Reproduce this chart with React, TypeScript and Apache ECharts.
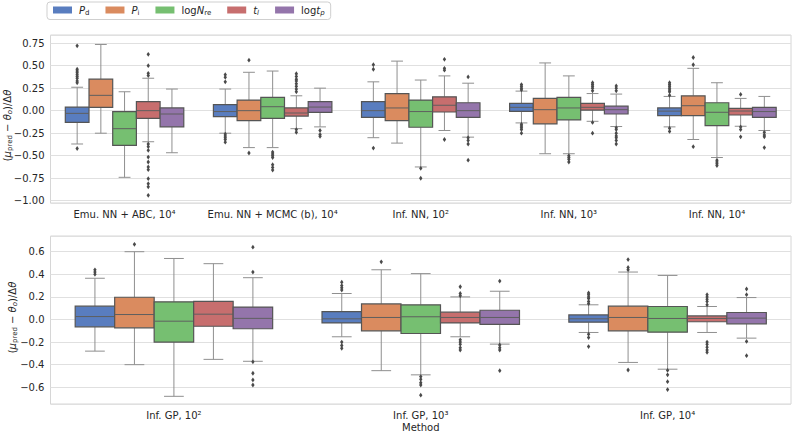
import React, { useEffect, useRef } from 'react';
import * as echarts from 'echarts';

// ---------- data ----------
const hueNames = ['Pd', 'Pi', 'logNre', 'tl', 'logtp'];
const hueColors = ['#597dbf', '#da8b5f', '#76bf71', '#c76e6e', '#9475ab'];

const topCategories = ['Emu. NN + ABC, 10⁴', 'Emu. NN + MCMC (b), 10⁴', 'Inf. NN, 10²', 'Inf. NN, 10³', 'Inf. NN, 10⁴'];
const bottomCategories = ['Inf. GP, 10²', 'Inf. GP, 10³', 'Inf. GP, 10⁴'];

const yTicksTop = { min: -1.025, max: 0.84, step: 0.25, digits: 2 };
const yTicksBottom = { min: -0.748, max: 0.739, step: 0.2, digits: 1 };

// box stats per category: [whiskerLow, q1, median, q3, whiskerHigh]
const topPd = [[-0.37, -0.13, -0.03, 0.04, 0.26], [-0.25, -0.066, -0.01, 0.066, 0.24], [-0.30, -0.074, 0.0, 0.10, 0.32], [-0.136, -0.007, 0.037, 0.08, 0.217], [-0.18, -0.055, -0.005, 0.03, 0.158]];
const topPi = [[-0.25, 0.037, 0.17, 0.35, 0.735], [-0.41, -0.11, 0.0, 0.118, 0.426], [-0.36, -0.11, 0.03, 0.19, 0.55], [-0.478, -0.147, 0.011, 0.136, 0.53], [-0.32, -0.055, 0.055, 0.165, 0.47]];
const topLogNre = [[-0.74, -0.386, -0.20, -0.01, 0.21], [-0.41, -0.085, 0.044, 0.147, 0.44], [-0.625, -0.184, -0.01, 0.118, 0.34], [-0.478, -0.103, 0.03, 0.147, 0.386], [-0.52, -0.165, -0.018, 0.088, 0.31]];
const topTl = [[-0.345, -0.085, 0.0, 0.10, 0.36], [-0.20, -0.06, -0.026, 0.03, 0.165], [-0.22, -0.015, 0.06, 0.154, 0.386], [-0.118, 0.007, 0.037, 0.08, 0.19], [-0.173, -0.048, -0.004, 0.026, 0.136]];
const topLogtp = [[-0.467, -0.18, -0.037, 0.03, 0.24], [-0.18, -0.018, 0.04, 0.10, 0.25], [-0.294, -0.074, 0.0, 0.088, 0.305], [-0.176, -0.037, 0.011, 0.05, 0.184], [-0.22, -0.074, -0.01, 0.037, 0.158]];

// outliers per category
const topPdOut = [[0.72, 0.46, 0.44, 0.42, 0.40, 0.38, 0.36, 0.33, 0.31, -0.42], [0.40, 0.37, 0.32, -0.26, -0.28, -0.30, -0.32, -0.35], [0.51, 0.46, -0.415], [0.29, 0.27, 0.25, 0.23, -0.15, -0.17, -0.19, -0.21, -0.25], [0.31, 0.29, 0.27, 0.25, 0.23, 0.21, 0.17, -0.195, -0.23]];
const topPiOut = [[], [0.56, -0.47], [], [], [0.59, 0.51, -0.40]];
const topLogNreOut = [[], [-0.46, -0.48, -0.50, -0.52, -0.60, -0.63, -0.66], [-0.64, -0.75], [-0.50, -0.52, -0.54, -0.57], [-0.55, -0.57, -0.59, -0.61]];
const topTlOut = [[0.625, 0.50, 0.415, 0.39, -0.37, -0.40, -0.44, -0.515, -0.57, -0.625, -0.655, -0.755, -0.81, -0.845, -0.94], [0.41, 0.38, 0.35, 0.33, 0.30, 0.27, 0.24, 0.21, -0.21, -0.24], [0.57, 0.47, 0.45, -0.32], [0.31, 0.29, 0.27, 0.25, 0.22, -0.13, -0.25], [0.18, -0.18, -0.21, -0.29]];
const topLogtpOut = [[], [-0.22, -0.265, -0.285], [0.375, -0.30, -0.33, -0.37, -0.55], [0.275, 0.25, 0.22, -0.19, -0.21, -0.25, -0.28, -0.30, -0.33, -0.37], [-0.24, -0.27, -0.29, -0.41]];

const bottomPd = [[-0.28, -0.065, 0.026, 0.118, 0.365], [-0.153, -0.03, 0.006, 0.07, 0.23], [-0.115, -0.024, 0.006, 0.04, 0.13]];
const bottomPi = [[-0.40, -0.074, 0.044, 0.197, 0.60], [-0.453, -0.10, 0.018, 0.138, 0.44], [-0.38, -0.10, 0.018, 0.118, 0.42]];
const bottomLogNre = [[-0.68, -0.20, -0.015, 0.156, 0.54], [-0.49, -0.124, 0.024, 0.13, 0.406], [-0.44, -0.112, 0.009, 0.115, 0.39]];
const bottomTl = [[-0.353, -0.06, 0.047, 0.16, 0.494], [-0.153, -0.03, 0.018, 0.065, 0.20], [-0.115, -0.02, 0.009, 0.032, 0.115]];
const bottomLogtp = [[-0.37, -0.082, 0.01, 0.11, 0.37], [-0.218, -0.044, 0.018, 0.082, 0.25], [-0.165, -0.038, 0.012, 0.062, 0.194]];

const bottomPdOut = [[0.44, 0.42, 0.40], [0.33, 0.30, 0.28, 0.26, -0.20, -0.23, -0.255], [0.235, 0.22, 0.20, 0.185, 0.16, 0.14, -0.13, -0.16, -0.24]];
const bottomPiOut = [[0.665], [0.51], [0.53, 0.46, 0.44, -0.447]];
const bottomLogNreOut = [[], [-0.505, -0.53, -0.56, -0.58, -0.67], [-0.45, -0.49, -0.55, -0.62]];
const bottomTlOut = [[], [0.29, 0.23, 0.21, -0.18, -0.20, -0.22, -0.25, -0.27], [0.22, 0.20, 0.18, 0.16, 0.13, -0.20, -0.22, -0.245, -0.27, -0.29]];
const bottomLogtpOut = [[0.64, 0.42, -0.375, -0.476, -0.535, -0.58], [0.34, -0.226, -0.25, -0.27, -0.453], [0.27, 0.22, -0.194, -0.32]];

// ---------- styling ----------
const FONT = 'DejaVu Sans';
const TEXT = '#262626';
const EDGE = '#555555';
const WHISKER = '#8f8f8f';
const MEDIAN = '#5f5f5f';
const FLIER = '#4a4a4a';
const GRIDLINE = '#e0e0e0';
const BORDER = '#d6d6d6';

const richBase = {
  n: { fontSize: 10, lineHeight: 13, fontFamily: FONT, color: TEXT },
  it: { fontSize: 10, lineHeight: 13, fontFamily: FONT, fontStyle: 'italic', color: TEXT },
  sub: { fontSize: 7, lineHeight: 7, fontFamily: FONT, color: TEXT, verticalAlign: 'bottom' },
  subit: { fontSize: 7, lineHeight: 7, fontFamily: FONT, fontStyle: 'italic', color: TEXT, verticalAlign: 'bottom' },
  gapTop: { width: 13, fontSize: 10, lineHeight: 13 },
  gapBottom: { width: 5, fontSize: 10, lineHeight: 13 },
};

const legendLabels: Record<string, string> = {
  Pd: '{it|P}{sub|d}',
  Pi: '{it|P}{sub|i}',
  logNre: '{n|log}{it|N}{sub|re}',
  tl: '{it|t}{subit|l}',
  logtp: '{n|log}{it|t}{subit|p}',
};

const yName = '{n|(}{it|μ}{sub|pred}{n| − }{it|θ}{subit|o}{n|)/Δ}{it|θ}';
const yNameTop = yName + '{gapTop| }';
const yNameBottom = '{gapBottom| }' + yName;

function tickFormatter(step: number, digits: number) {
  return (v: number) => {
    const k = v / step;
    if (Math.abs(k - Math.round(k)) > 1e-6) return '';
    const s = Math.abs(v).toFixed(digits);
    return v < -1e-9 ? '\u2212' + s : s;
  };
}

function boxSeries(hue: number, stats: number[][], axisIndex: number) {
  return {
    type: 'custom',
    name: hueNames[hue],
    xAxisIndex: axisIndex,
    yAxisIndex: axisIndex,
    itemStyle: { color: hueColors[hue] },
    encode: { x: 0, y: [1, 2, 3, 4, 5] },
    data: stats.map((s, i) => [i, ...s]),
    z: 2,
    renderItem: (params: any, api: any) => {
      const cat = api.value(0);
      const band = api.size([1, 0])[0];
      const w = (band * 0.8) / 5;
      const cx = api.coord([cat, 0])[0] - band * 0.4 + w * (hue + 0.5);
      const y = [1, 2, 3, 4, 5].map((d) => api.coord([cat, api.value(d)])[1]);
      const cap = w * 0.25;
      const ls = { stroke: WHISKER, lineWidth: 1 };
      return {
        type: 'group',
        children: [
          { type: 'line', shape: { x1: cx, y1: y[0], x2: cx, y2: y[1] }, style: ls },
          { type: 'line', shape: { x1: cx, y1: y[3], x2: cx, y2: y[4] }, style: ls },
          { type: 'line', shape: { x1: cx - cap, y1: y[0], x2: cx + cap, y2: y[0] }, style: ls },
          { type: 'line', shape: { x1: cx - cap, y1: y[4], x2: cx + cap, y2: y[4] }, style: ls },
          {
            type: 'rect',
            shape: { x: cx - w / 2, y: y[3], width: w, height: y[1] - y[3] },
            style: { fill: hueColors[hue], stroke: EDGE, lineWidth: 1.2 },
          },
          { type: 'line', shape: { x1: cx - w / 2, y1: y[2], x2: cx + w / 2, y2: y[2] }, style: { stroke: MEDIAN, lineWidth: 1 } },
        ],
      };
    },
  };
}

function flierSeries(hue: number, outs: number[][], axisIndex: number) {
  const data: number[][] = [];
  outs.forEach((list, i) => list.forEach((v) => data.push([i, v])));
  return {
    type: 'custom',
    name: hueNames[hue] + '-out',
    xAxisIndex: axisIndex,
    yAxisIndex: axisIndex,
    encode: { x: 0, y: 1 },
    data,
    z: 3,
    renderItem: (params: any, api: any) => {
      const cat = api.value(0);
      const band = api.size([1, 0])[0];
      const w = (band * 0.8) / 5;
      const p = api.coord([cat, api.value(1)]);
      const cx = p[0] - band * 0.4 + w * (hue + 0.5);
      const cy = p[1];
      return {
        type: 'polygon',
        shape: { points: [[cx, cy - 2.4], [cx + 1.7, cy], [cx, cy + 2.4], [cx - 1.7, cy]] },
        style: { fill: FLIER },
      };
    },
  };
}

function valueAxis(gridIndex: number, t: { min: number; max: number; step: number; digits: number }, name: string, nameGap: number) {
  return {
    type: 'value',
    gridIndex,
    min: t.min,
    max: t.max,
    minInterval: t.step,
    maxInterval: t.step,
    axisLine: { show: false },
    axisTick: { show: false },
    axisLabel: { formatter: tickFormatter(t.step, t.digits), fontSize: 10, color: TEXT, fontFamily: FONT, margin: 6 },
    splitLine: { show: true, lineStyle: { color: GRIDLINE, width: 1 } },
    name,
    nameLocation: 'middle',
    nameRotate: 90,
    nameGap,
    nameMoveOverlap: false,
    nameTextStyle: { rich: richBase },
  };
}

function catAxis(gridIndex: number, data: string[], extra: any = {}) {
  return {
    type: 'category',
    gridIndex,
    data,
    axisTick: { show: false },
    axisLine: { show: false },
    splitLine: { show: false },
    axisLabel: { interval: 0, fontSize: 10, color: TEXT, fontFamily: FONT, margin: 6 },
    ...extra,
  };
}

const option: any = {
  animation: false,
  backgroundColor: '#ffffff',
  textStyle: { fontFamily: FONT },
  legend: {
    left: 47,
    top: 2,
    orient: 'horizontal',
    data: hueNames.map((n, i) => ({ name: n, icon: 'rect', itemStyle: { color: hueColors[i], borderWidth: 0 } })),
    itemWidth: 19,
    itemHeight: 7,
    itemGap: 16,
    padding: [3, 6, 3, 6],
    borderColor: '#cfcfcf',
    borderWidth: 1,
    borderRadius: 3,
    backgroundColor: '#ffffff',
    formatter: (name: string) => legendLabels[name] || name,
    textStyle: { rich: richBase, padding: [0, 0, 0, 2] },
  },
  grid: [
    { left: 50.5, right: 3, top: 35, height: 168, show: true, borderColor: BORDER, borderWidth: 1, backgroundColor: '#ffffff', outerBoundsMode: 'none' },
    { left: 50.5, right: 3, top: 236, height: 168, show: true, borderColor: BORDER, borderWidth: 1, backgroundColor: '#ffffff', outerBoundsMode: 'none' },
  ],
  xAxis: [
    catAxis(0, topCategories),
    catAxis(1, bottomCategories, {
      name: 'Method',
      nameLocation: 'middle',
      nameGap: 18,
      nameMoveOverlap: false,
      nameTextStyle: { fontSize: 10, color: TEXT, fontFamily: FONT },
    }),
  ],
  yAxis: [valueAxis(0, yTicksTop, yNameTop, 37), valueAxis(1, yTicksBottom, yNameBottom, 32)],
  series: [
    boxSeries(0, topPd, 0),
    boxSeries(1, topPi, 0),
    boxSeries(2, topLogNre, 0),
    boxSeries(3, topTl, 0),
    boxSeries(4, topLogtp, 0),
    flierSeries(0, topPdOut, 0),
    flierSeries(1, topPiOut, 0),
    flierSeries(2, topLogNreOut, 0),
    flierSeries(3, topTlOut, 0),
    flierSeries(4, topLogtpOut, 0),
    boxSeries(0, bottomPd, 1),
    boxSeries(1, bottomPi, 1),
    boxSeries(2, bottomLogNre, 1),
    boxSeries(3, bottomTl, 1),
    boxSeries(4, bottomLogtp, 1),
    flierSeries(0, bottomPdOut, 1),
    flierSeries(1, bottomPiOut, 1),
    flierSeries(2, bottomLogNreOut, 1),
    flierSeries(3, bottomTlOut, 1),
    flierSeries(4, bottomLogtpOut, 1),
  ],
};

export default function App() {
  const ref = useRef<HTMLDivElement>(null);
  useEffect(() => {
    if (!ref.current) return;
    const chart = echarts.init(ref.current, undefined, { renderer: 'svg' });
    chart.setOption(option);
    return () => chart.dispose();
  }, []);
  return <div ref={ref} style={{ position: 'fixed', left: 0, top: 0, width: 794, height: 432 }} />;
}
